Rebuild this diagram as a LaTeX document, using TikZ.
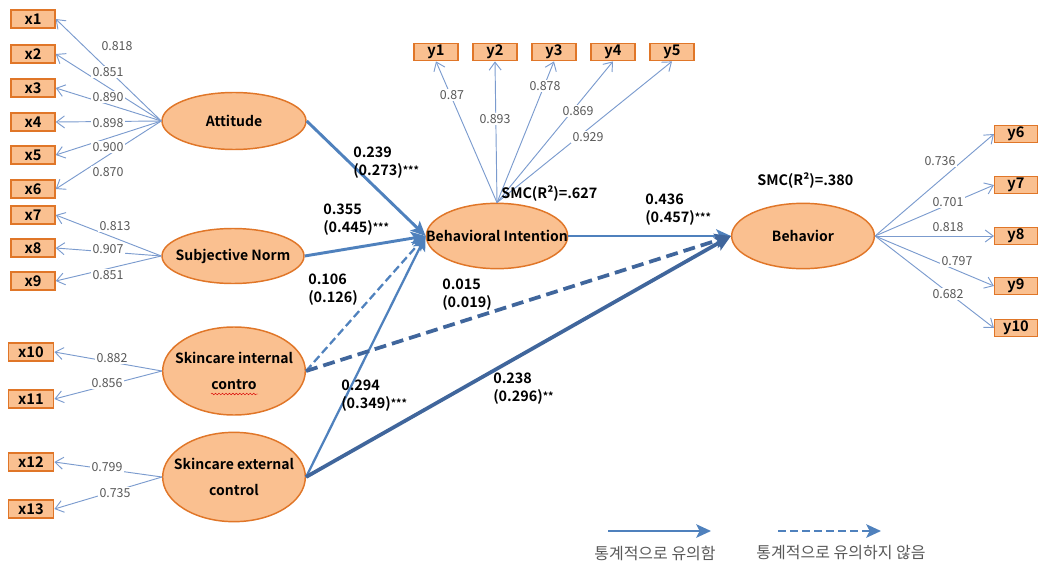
\documentclass[tikz,border=0pt]{standalone}
\usepackage{fontspec}
\setmainfont{Noto Sans CJK KR}[BoldFont={Noto Sans CJK KR Bold}]
\usetikzlibrary{arrows.meta,shapes.geometric,decorations.pathmorphing}
\definecolor{boxc}{HTML}{E07628}
\definecolor{fillc}{HTML}{FAC090}
\definecolor{ldc}{HTML}{7B9BCE}
\definecolor{stc}{HTML}{4F81BD}
\definecolor{stdark}{HTML}{40669C}
\definecolor{numc}{HTML}{595959}
\begin{document}
\begin{tikzpicture}[x=0.75pt,y=-0.75pt,
  ind/.style={draw=boxc, fill=fillc, line width=1.1pt, minimum width=33pt, minimum height=13.5pt, inner sep=0pt, font=\bfseries\fontsize{11}{11}\selectfont},
  lat/.style={ellipse, draw=boxc, fill=fillc, line width=1.1pt, inner sep=0pt},
  latlab/.style={font=\bfseries\fontsize{10.5}{19}\selectfont, align=center, text=black},
  ld/.style={draw=ldc, line width=0.7pt, -{Straight Barb[length=6pt,width=9pt]}},
  lv/.style={fill=white, inner sep=0.8pt, text=numc, font=\fontsize{9.3}{10}\selectfont},
  st/.style={draw=stc, line width=2.2pt, -{Stealth[length=11pt,width=10pt,inset=2.5pt]}},
  plab/.style={font=\bfseries\fontsize{10.8}{13.5}\selectfont, align=left, anchor=north west, inner sep=0pt},
]
\useasboundingbox (0,0) rectangle (1038,563);

% indicator boxes x
\foreach \n/\yy in {1/19,2/54,3/88,4/122,5/155,6/189,7/215,8/248,9/281}{
  \node[ind] (x\n) at (33,\yy) {x\n};
}
\foreach \n/\yy in {10/352,11/399,12/462,13/509}{
  \node[ind, minimum width=34pt] (x\n) at (31,\yy) {x\n};
}
% y boxes
\foreach \n/\xx in {1/436,2/495,3/554,4/613,5/672}{
  \node[ind, minimum height=13pt] (y\n) at (\xx,52) {y\n};
}
\foreach \n/\yy in {6/134,7/185,8/236,9/286,10/328}{
  \node[ind, minimum width=32pt, minimum height=13pt] (y\n) at (1016,\yy) {y\n};
}

% latent variables
\node[lat, minimum width=108pt, minimum height=42.75pt, label={[latlab]center:Attitude}] (att) at (234,121) {};
\node[lat, minimum width=106.5pt, minimum height=41.25pt, label={[latlab]center:Subjective Norm}] (sn) at (233,256) {};
\node[lat, minimum width=107pt, minimum height=66pt, label={[latlab]center:Skincare internal\\contro}] (sic) at (234,371) {};
\node[lat, minimum width=107pt, minimum height=67pt, label={[latlab]center:Skincare external\\control}] (sec) at (234,477) {};
\node[lat, minimum width=106pt, minimum height=49pt, label={[latlab]center:Behavioral Intention}] (bi) at (497,236) {};
\node[lat, minimum width=107pt, minimum height=49pt, label={[latlab]center:Behavior}] (beh) at (803,236) {};

% red wavy underline
\draw[red!85!black, line width=0.35pt, decorate, decoration={snake, amplitude=0.6pt, segment length=2.6pt}] (211,394) -- (258,394);

% loadings
\foreach \n in {1,...,6}{ \draw[ld] (att.west) -- (x\n.east); }
\foreach \n in {7,8,9}{ \draw[ld] (sn.west) -- (x\n.east); }
\foreach \n in {10,11}{ \draw[ld] (sic.west) -- (x\n.east); }
\foreach \n in {12,13}{ \draw[ld] (sec.west) -- (x\n.east); }
\foreach \n in {1,...,5}{ \draw[ld] (bi.north) -- (y\n.south); }
\foreach \n in {6,...,10}{ \draw[ld] (beh.east) -- (y\n.west); }

% loading values
\node[lv] (l1) at (117,46) {0.818};
\node[lv] (l2) at (108,72) {0.851};
\node[lv] (l3) at (108,97) {0.890};
\node[lv] (l4) at (108,123) {0.898};
\node[lv] (l5) at (108,147) {0.900};
\node[lv] (l6) at (108,172) {0.870};
\node[lv] (l7) at (115,226) {0.813};
\node[lv] (l8) at (108,249) {0.907};
\node[lv] (l9) at (108,275) {0.851};
\node[lv] (l10) at (112,358) {0.882};
\node[lv] (l11) at (107,383) {0.856};
\node[lv] (l12) at (107,467) {0.799};
\node[lv] (l13) at (115,493) {0.735};
\node[lv] (m1) at (452,95) {0.87};
\node[lv] (m2) at (495,119) {0.893};
\node[lv] (m3) at (545,86) {0.878};
\node[lv] (m4) at (578,111) {0.869};
\node[lv] (m5) at (588,137) {0.929};
\node[lv] (m6) at (940,161) {0.736};
\node[lv] (m7) at (948,202) {0.701};
\node[lv] (m8) at (948,227) {0.818};
\node[lv] (m9) at (957,261) {0.797};
\node[lv] (m10) at (948,294) {0.682};

% structural paths
\draw[st] (att.east) -- (bi.west);
\draw[st] (sn.east) -- (bi.west);
\draw[st, line width=1.7pt, dash pattern=on 6pt off 3pt] (sic.east) -- (bi.west);
\draw[st, line width=1.7pt] (sec.east) -- (bi.west);
\draw[st, line width=2pt] (bi.east) -- (beh.west);
\draw[st, draw=stdark, line width=2.8pt, dash pattern=on 9pt off 4.5pt, -{Stealth[length=12pt,width=11pt,inset=2.5pt]}] (sic.east) -- (beh.west);
\draw[st, draw=stdark, line width=2.8pt, -{Stealth[length=12pt,width=11pt,inset=2.5pt]}] (sec.east) -- (beh.west);

% path labels
\newcommand{\stars}[1]{{\fontsize{8}{8}\selectfont\raisebox{0.3ex}{#1}}}
\node[plab] (p1) at (353,147) {0.239\\(0.273)\stars{***}};
\node[plab] (p2) at (323,204) {0.355\\(0.445)\stars{***}};
\node[plab] (p3) at (308,274) {0.106\\(0.126)};
\node[plab] (p4) at (442,279) {0.015\\(0.019)};
\node[plab] (p5) at (341,380) {0.294\\(0.349)\stars{***}};
\node[plab] (p6) at (493,373) {0.238\\(0.296)\stars{**}};
\node[plab] (p7) at (645,194) {0.436\\(0.457)\stars{***}};
\node[plab] (r1) at (501,185) {SMC(R²)=.627};
\node[plab] (r2) at (757,172) {SMC(R²)=.380};

% legend
\coordinate (la1) at (608,531);
\coordinate (la2) at (711,531);
\coordinate (lb1) at (778,531);
\coordinate (lb2) at (881,531);
\draw[st, line width=2pt] (la1) -- (la2);
\draw[st, line width=2pt, dash pattern=on 6pt off 3pt] (lb1) -- (lb2);
\node[text=numc, font=\fontsize{12}{12}\selectfont] (lt1) at (655,553) {통계적으로 유의함};
\node[text=numc, font=\fontsize{12}{12}\selectfont] (lt2) at (841,553) {통계적으로 유의하지 않음};
\end{tikzpicture}
\end{document}
